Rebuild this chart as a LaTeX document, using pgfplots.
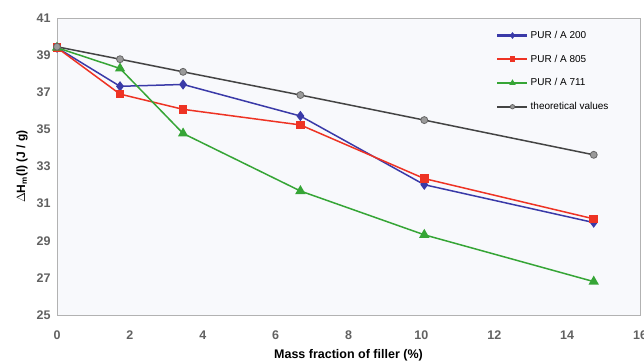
\documentclass[border=0pt]{standalone}
\usepackage{pgfplots}
\pgfplotsset{compat=1.18}
\usepackage{fontspec}
\setmainfont{Liberation Sans}
\definecolor{cblue}{HTML}{3A3AA8}
\definecolor{cred}{HTML}{EE3324}
\definecolor{cgreen}{HTML}{36A536}
\definecolor{cdark}{HTML}{444444}
\definecolor{cgrayfill}{HTML}{9A9A9A}
\definecolor{bgplot}{HTML}{F8F9FC}
\begin{document}
\begin{tikzpicture}
\begin{axis}[
  scale only axis,
  width=583pt, height=297pt,
  xmin=0, xmax=16, ymin=25, ymax=41,
  xtick={0,2,...,16}, ytick={25,27,...,41},
  axis background/.style={fill=bgplot},
  axis line style={draw=gray!60, line width=0.8pt},
  tick style={draw=none},
  ticklabel style={font=\bfseries\fontsize{12.5}{14}\selectfont, text=black!62},
  /pgf/number format/assume math mode=true,
  yticklabel style={xshift=-3pt},
  xticklabel style={yshift=-12pt},
  xlabel={\bfseries Mass fraction of filler (\%)},
  ylabel={\bfseries $\Delta$H\textsubscript{m}(l) (J / g)},
  xlabel style={font=\fontsize{12.5}{14}\selectfont, yshift=-3.5pt},
  ylabel style={font=\fontsize{12}{14}\selectfont, yshift=2pt},
  legend style={at={(rel axis cs:0.748,0.97)}, anchor=north west, draw=none, fill=none,
    font=\fontsize{10}{12}\selectfont, row sep=11pt},
  legend cell align=left,
  legend image code/.code={%
     \draw[#1,line width=2.4pt,mark=none] (0pt,0pt) -- (30pt,0pt);
     \draw[#1,mark size=2.2pt] plot coordinates {(15pt,0pt)};},
]
\addplot[cblue, line width=1.5pt, mark=diamond*, mark size=4pt, mark options={fill=cblue}] coordinates {
 (0,39.4) (1.73,37.32) (3.46,37.42) (6.68,35.72) (10.08,32.02) (14.73,29.98)};
\addlegendentry{PUR / A 200}
\addplot[cred, line width=1.5pt, mark=square*, mark size=3.5pt, mark options={fill=cred}] coordinates {
 (0,39.4) (1.73,36.9) (3.46,36.08) (6.68,35.24) (10.08,32.35) (14.73,30.18)};
\addlegendentry{PUR / A 805}
\addplot[cgreen, line width=1.5pt, mark=triangle*, mark size=4.5pt, mark options={fill=cgreen}] coordinates {
 (0,39.4) (1.73,38.28) (3.46,34.78) (6.68,31.68) (10.08,29.32) (14.73,26.8)};
\addlegendentry{PUR / A 711}
\addplot[cdark, line width=1.5pt, mark=*, mark size=3.5pt, mark options={fill=cgrayfill, draw=gray!80!black, line width=0.8pt}] coordinates {
 (0,39.45) (1.73,38.78) (3.46,38.1) (6.68,36.85) (10.08,35.5) (14.73,33.63)};
\addlegendentry{theoretical values}
\end{axis}
\pgfresetboundingbox
\path (current axis.south west) ++(-57pt,-47pt) coordinate (bbsw);
\path (current axis.north east) ++(4pt,18pt) coordinate (bbne);
\path[use as bounding box] (bbsw) rectangle (bbne);
\end{tikzpicture}
\end{document}
